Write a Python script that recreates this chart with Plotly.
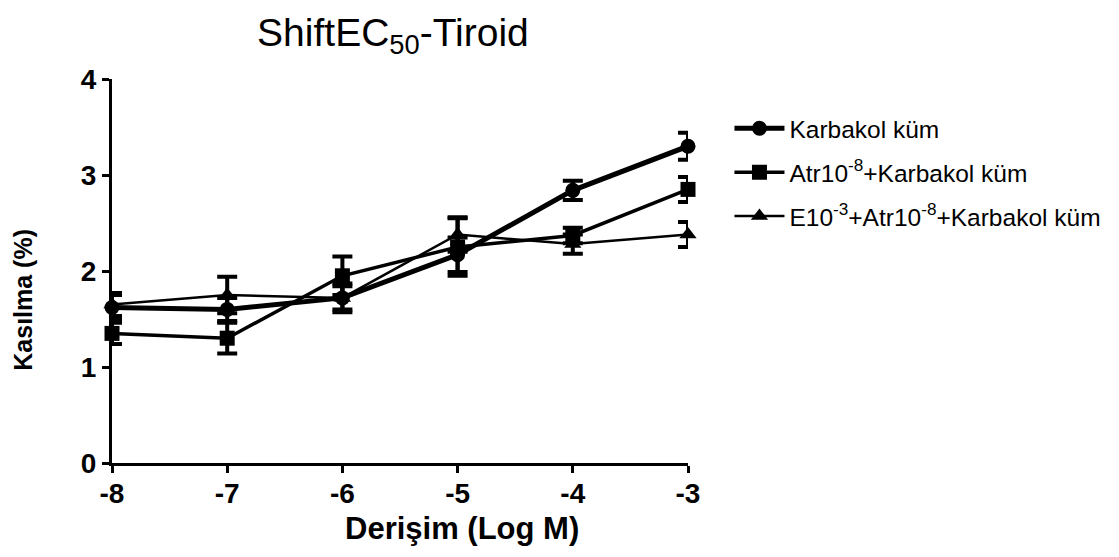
import plotly.graph_objects as go

x_vals = [-8, -7, -6, -5, -4, -3]
names = ["Karbakol küm", "Atr10<sup>-8</sup>+Karbakol küm", "E10<sup>-3</sup>+Atr10<sup>-8</sup>+Karbakol küm"]
karbakol = [1.62, 1.60, 1.72, 2.17, 2.84, 3.30]
karbakol_err = [0.13, 0.12, 0.15, 0.18, 0.10, 0.14]
atr = [1.35, 1.30, 1.95, 2.25, 2.37, 2.85]
atr_err = [0.11, 0.16, 0.20, 0.30, 0.08, 0.13]
e_atr = [1.65, 1.75, 1.72, 2.38, 2.28, 2.38]
e_atr_err = [0.12, 0.19, 0.12, 0.18, 0.10, 0.13]

series = [
    (names[0], karbakol, karbakol_err, "circle", 5),
    (names[1], atr, atr_err, "square", 3.5),
    (names[2], e_atr, e_atr_err, "triangle-up", 2.5),
]

fig = go.Figure()
for i, (name, y, err, sym, lw) in enumerate(series):
    fig.add_trace(go.Scatter(
        x=x_vals, y=y, name=name, mode="lines+markers", legendgroup=f"g{i}",
        line=dict(color="black", width=lw),
        marker=dict(symbol=sym, size=15, color="black"),
        error_y=dict(type="data", array=err, visible=True, color="black", thickness=4, width=10),
        cliponaxis=False,
    ))

FONT = "Liberation Sans, Arial, sans-serif"
fig.update_layout(
    width=1119, height=557,
    paper_bgcolor="white", plot_bgcolor="white",
    margin=dict(l=104, r=439, t=71, b=102),
    font=dict(family=FONT, color="black"),
    title=dict(text="ShiftEC<sub>50</sub>-Tiroid", x=0.344, xanchor="center", y=0.957, yanchor="middle",
               font=dict(size=39, color="black")),
    legend=dict(x=1.072, y=0.93, xanchor="left", yanchor="top", font=dict(size=24.5, color="black"),
                tracegroupgap=9, itemwidth=50, bgcolor="rgba(0,0,0,0)", traceorder="grouped"),
    showlegend=True,
    annotations=[
        dict(text="<b>Kasılma (%)</b>", textangle=-90, xref="paper", yref="paper",
             x=-0.155, y=0.4245, xanchor="center", yanchor="middle", showarrow=False,
             font=dict(size=25, color="black", family=FONT)),
        dict(text="<b>Derişim (Log M)</b>", xref="paper", yref="paper",
             x=0.607, y=-0.17, xanchor="center", yanchor="middle", showarrow=False,
             font=dict(size=31, color="black", family=FONT)),
    ],
)
fig.update_xaxes(
    range=[-8, -3], tickvals=x_vals, ticktext=[str(v) for v in x_vals],
    showline=True, linecolor="black", linewidth=3, ticks="outside", ticklen=7, tickwidth=3, tickcolor="black",
    showgrid=False, zeroline=False, ticklabelstandoff=-4,
    tickfont=dict(size=28, family=FONT, color="black", weight="bold"),
)
fig.update_yaxes(
    range=[0, 4], tickvals=[0, 1, 2, 3, 4],
    showline=True, linecolor="black", linewidth=3, ticks="outside", ticklen=7, tickwidth=3, tickcolor="black",
    showgrid=False, zeroline=False,
    tickfont=dict(size=28, family=FONT, color="black", weight="bold"),
)
fig.write_html("out.html")
